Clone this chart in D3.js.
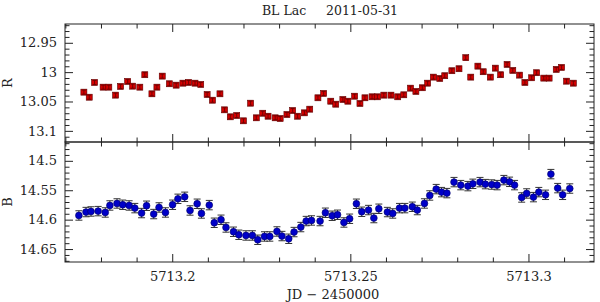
<!doctype html>
<html lang="en">
<head>
<meta charset="utf-8">
<script src="https://cdn.jsdelivr.net/npm/d3@7"></script>
<style type="text/css">
body { margin: 0; background: #ffffff; }
svg text { font-family: "DejaVu Serif", serif; fill: #222; }
.axis path.domain { display: none; }
.axis line { stroke: #222; stroke-width: 1; }
</style>
</head>
<body>
<script>
// R band (red squares)
var rJD = [5713.1752, 5713.1767, 5713.1782, 5713.1806, 5713.1822, 5713.1841, 5713.1855, 5713.1875, 5713.1889, 5713.1909,
           5713.1923, 5713.1943, 5713.1957, 5713.1972, 5713.1992, 5713.2011, 5713.2030, 5713.2046, 5713.2064, 5713.2080,
           5713.2098, 5713.2113, 5713.2134, 5713.2147, 5713.2163, 5713.2181, 5713.2200, 5713.2220, 5713.2236, 5713.2254,
           5713.2269, 5713.2289, 5713.2303, 5713.2322, 5713.2338, 5713.2352, 5713.2371, 5713.2386, 5713.2409, 5713.2425,
           5713.2445, 5713.2459, 5713.2479, 5713.2493, 5713.2512, 5713.2527, 5713.2541, 5713.2561, 5713.2576, 5713.2594,
           5713.2614, 5713.2633, 5713.2650, 5713.2669, 5713.2684, 5713.2702, 5713.2717, 5713.2733, 5713.2751, 5713.2765,
           5713.2785, 5713.2805, 5713.2824, 5713.2838, 5713.2858, 5713.2873, 5713.2893, 5713.2907, 5713.2922, 5713.2940,
           5713.2956, 5713.2975, 5713.2990, 5713.3009, 5713.3023, 5713.3043, 5713.3058, 5713.3078, 5713.3093, 5713.3107,
           5713.3126];
var rMag = [13.0341, 13.0427, 13.0176, 13.0256, 13.0256, 13.0392, 13.0244, 13.0159, 13.0239, 13.0256,
            13.0044, 13.0369, 13.0256, 13.0068, 13.0198, 13.0222, 13.0188, 13.0176, 13.0188, 13.0210,
            13.0381, 13.0478, 13.0369, 13.0642, 13.0761, 13.0739, 13.0829, 13.0529, 13.0778, 13.0700,
            13.0751, 13.0778, 13.0790, 13.0722, 13.0654, 13.0751, 13.0693, 13.0631, 13.0437, 13.0363,
            13.0495, 13.0546, 13.0466, 13.0495, 13.0410, 13.0534, 13.0437, 13.0420, 13.0420, 13.0392,
            13.0392, 13.0420, 13.0386, 13.0273, 13.0329, 13.0266, 13.0188, 13.0085, 13.0108, 13.0061,
            12.9976, 12.9942, 12.9754, 13.0085, 12.9898, 12.9993, 13.0085, 12.9932, 13.0044, 12.9869,
            12.9971, 13.0051, 13.0176, 13.0096, 13.0010, 13.0102, 13.0102, 12.9954, 12.9920, 13.0154,
            13.0188];
var rErr = 0.0035;

// B band (blue circles)
var bJD = [5713.1738, 5713.1758, 5713.1772, 5713.1792, 5713.1812, 5713.1825, 5713.1845, 5713.1861, 5713.1879, 5713.1895,
           5713.1914, 5713.1928, 5713.1948, 5713.1963, 5713.1981, 5713.2001, 5713.2016, 5713.2035, 5713.2050, 5713.2070,
           5713.2082, 5713.2104, 5713.2118, 5713.2137, 5713.2151, 5713.2172, 5713.2187, 5713.2207, 5713.2225, 5713.2240,
           5713.2259, 5713.2274, 5713.2294, 5713.2308, 5713.2327, 5713.2342, 5713.2361, 5713.2376, 5713.2391, 5713.2415,
           5713.2430, 5713.2449, 5713.2464, 5713.2482, 5713.2498, 5713.2517, 5713.2532, 5713.2551, 5713.2566, 5713.2580,
           5713.2604, 5713.2619, 5713.2638, 5713.2653, 5713.2674, 5713.2688, 5713.2708, 5713.2723, 5713.2741, 5713.2756,
           5713.2771, 5713.2791, 5713.2810, 5713.2830, 5713.2844, 5713.2864, 5713.2879, 5713.2897, 5713.2912, 5713.2931,
           5713.2947, 5713.2961, 5713.2981, 5713.2995, 5713.3014, 5713.3029, 5713.3048, 5713.3063, 5713.3082, 5713.3096,
           5713.3116];
var bMag = [14.5929, 14.5871, 14.5861, 14.5855, 14.5878, 14.5759, 14.5725, 14.5747, 14.5759, 14.5804,
            14.5888, 14.5764, 14.5905, 14.5793, 14.5878, 14.5747, 14.5646, 14.5612, 14.5844, 14.5730,
            14.5895, 14.5753, 14.6053, 14.6002, 14.6133, 14.6206, 14.6257, 14.6269, 14.6269, 14.6342,
            14.6286, 14.6286, 14.6201, 14.6279, 14.6325, 14.6211, 14.6126, 14.6024, 14.6014, 14.6024,
            14.5883, 14.5934, 14.5917, 14.6048, 14.5985, 14.5730, 14.5866, 14.5837, 14.5973, 14.5815,
            14.5871, 14.5895, 14.5804, 14.5804, 14.5781, 14.5837, 14.5725, 14.5589, 14.5481, 14.5532,
            14.5549, 14.5362, 14.5413, 14.5430, 14.5391, 14.5362, 14.5396, 14.5403, 14.5413, 14.5328,
            14.5357, 14.5413, 14.5623, 14.5555, 14.5617, 14.5532, 14.5578, 14.5226, 14.5464, 14.5578,
            14.5471];
var bErr = 0.008;

// ticks
var xMajor = [5713.2, 5713.25, 5713.3];
var xMinor = [5713.17, 5713.18, 5713.19, 5713.21, 5713.22, 5713.23, 5713.24,
              5713.26, 5713.27, 5713.28, 5713.29, 5713.31];
var rMajor = [12.95, 13, 13.05, 13.1];
var rMinor = [12.92, 12.93, 12.94, 12.96, 12.97, 12.98, 12.99, 13.01, 13.02, 13.03, 13.04,
              13.06, 13.07, 13.08, 13.09, 13.11];
var bMajor = [14.5, 14.55, 14.6, 14.65];
var bMinor = [14.47, 14.48, 14.49, 14.51, 14.52, 14.53, 14.54, 14.56, 14.57, 14.58, 14.59,
              14.61, 14.62, 14.63, 14.64, 14.66, 14.67];

var left = 65, right = 594, top1 = 24, mid = 142, bottom = 262;

var svg = d3.select("body").append("svg")
    .attr("width", 600)
    .attr("height", 302);

var x = d3.scaleLinear().domain([5713.1699, 5713.3184]).range([left, right]);
var yR = d3.scaleLinear().domain([12.918, 13.119]).range([top1, mid]);
var yB = d3.scaleLinear().domain([14.468, 14.672]).range([mid, bottom]);

var fmt = function(d) { return String(+d.toFixed(2)); };

// draw a set of major + minor ticks with one axis generator
function ticks(axisFn, scale, tx, ty, major, minor, labels) {
    svg.append("g").attr("class", "axis")
        .attr("transform", "translate(" + tx + "," + ty + ")")
        .call(axisFn(scale).tickValues(minor).tickSize(-4.5).tickFormat(""));
    svg.append("g").attr("class", "axis")
        .attr("transform", "translate(" + tx + "," + ty + ")")
        .call(axisFn(scale).tickValues(major).tickSize(-8)
            .tickPadding(axisFn === d3.axisLeft ? 8 : 10)
            .tickFormat(labels ? fmt : ""))
        .selectAll("text")
        .attr("font-size", 13);
}

// top panel
ticks(d3.axisLeft, yR, left, 0, rMajor, rMinor, true);
ticks(d3.axisRight, yR, right, 0, rMajor, rMinor, false);
ticks(d3.axisTop, x, 0, top1, xMajor, xMinor, false);
ticks(d3.axisBottom, x, 0, mid, xMajor, xMinor, false);
// bottom panel
ticks(d3.axisLeft, yB, left, 0, bMajor, bMinor, true);
ticks(d3.axisRight, yB, right, 0, bMajor, bMinor, false);
ticks(d3.axisTop, x, 0, mid, xMajor, xMinor, false);
ticks(d3.axisBottom, x, 0, bottom, xMajor, xMinor, true);

svg.selectAll("g.axis text").attr("font-family", "DejaVu Serif").attr("fill", "#222");

// frames
svg.append("rect").attr("x", left).attr("y", top1).attr("width", right - left).attr("height", mid - top1)
    .attr("fill", "none").attr("stroke", "#222");
svg.append("rect").attr("x", left).attr("y", mid).attr("width", right - left).attr("height", bottom - mid)
    .attr("fill", "none").attr("stroke", "#222");

// B points with error bars
var bData = bJD.map(function(d, i) { return {t: d, m: bMag[i]}; });
var gB = svg.append("g");
gB.selectAll("path.err").data(bData).enter().append("path")
    .attr("class", "err")
    .attr("d", function(d) {
        var cx = x(d.t), y0 = yB(d.m - bErr), y1 = yB(d.m + bErr);
        return "M" + cx + "," + y0 + "V" + y1 +
               "M" + (cx - 3.5) + "," + y0 + "H" + (cx + 3.5) +
               "M" + (cx - 3.5) + "," + y1 + "H" + (cx + 3.5);
    })
    .attr("stroke", "#333").attr("stroke-width", 1).attr("fill", "none");
gB.selectAll("circle").data(bData).enter().append("circle")
    .attr("cx", function(d) { return x(d.t); })
    .attr("cy", function(d) { return yB(d.m); })
    .attr("r", 3.4)
    .attr("fill", "#0000c8")
    .attr("stroke", "#000066").attr("stroke-width", 0.6);

// R points
var rData = rJD.map(function(d, i) { return {t: d, m: rMag[i]}; });
var gR = svg.append("g");
gR.selectAll("rect").data(rData).enter().append("rect")
    .attr("x", function(d) { return x(d.t) - 3; })
    .attr("y", function(d) { return yR(d.m) - 3; })
    .attr("width", 6).attr("height", 6)
    .attr("fill", "#d40000")
    .attr("stroke", "#5a0000").attr("stroke-width", 0.6);
gR.selectAll("path.err").data(rData).enter().append("path")
    .attr("class", "err")
    .attr("d", function(d) {
        var cx = x(d.t), y0 = yR(d.m - rErr), y1 = yR(d.m + rErr);
        return "M" + cx + "," + y0 + "V" + y1 +
               "M" + (cx - 2) + "," + y0 + "H" + (cx + 2) +
               "M" + (cx - 2) + "," + y1 + "H" + (cx + 2);
    })
    .attr("stroke", "#600000").attr("stroke-width", 0.8).attr("fill", "none");

// labels
svg.append("text")
    .attr("x", 330).attr("y", 15)
    .attr("text-anchor", "middle")
    .attr("font-size", 12.5)
    .attr("xml:space", "preserve")
    .style("white-space", "pre")
    .text("BL Lac     2011-05-31");

svg.append("text")
    .attr("x", 333).attr("y", 299)
    .attr("text-anchor", "middle")
    .attr("font-size", 13)
    .style("white-space", "pre")
    .text("JD \u2212 2450000");

svg.append("text")
    .attr("transform", "translate(12," + ((top1 + mid) / 2) + ") rotate(-90)")
    .attr("text-anchor", "middle")
    .attr("font-size", 13)
    .text("R");

svg.append("text")
    .attr("transform", "translate(12," + ((mid + bottom) / 2) + ") rotate(-90)")
    .attr("text-anchor", "middle")
    .attr("font-size", 13)
    .text("B");
</script>
</body>
</html>
